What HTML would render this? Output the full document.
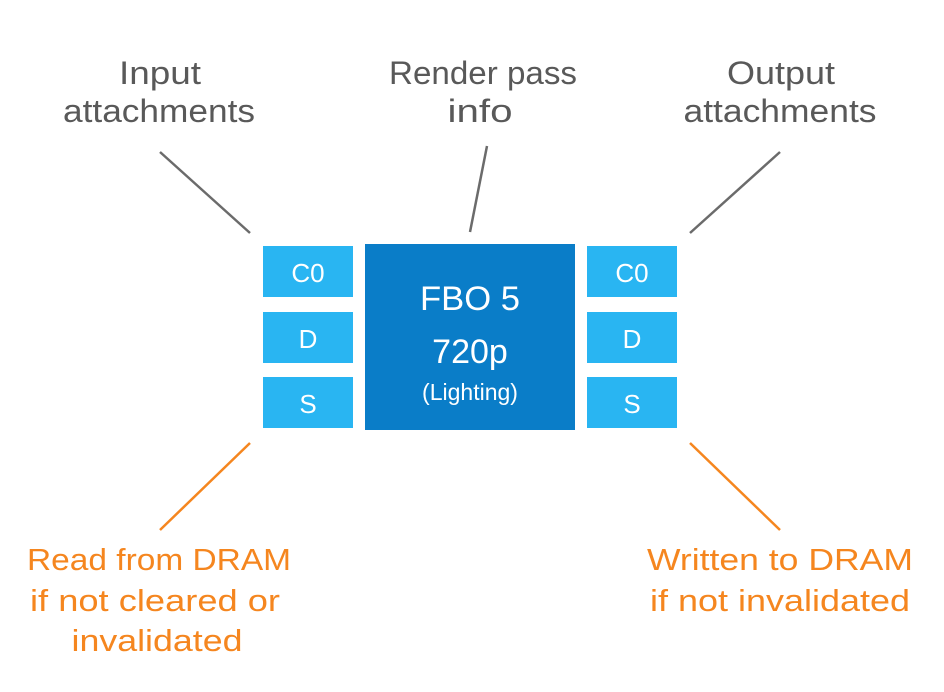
<!DOCTYPE html>
<html><head><style>html,body{margin:0;padding:0;background:#fff}svg{display:block}</style></head>
<body>
<svg width="944" height="692" viewBox="0 0 944 692" xmlns="http://www.w3.org/2000/svg" font-family="Liberation Sans, DejaVu Sans, sans-serif">
<rect width="944" height="692" fill="#fff"/>
<g stroke="#6b6b6b" stroke-width="2.5">
<line x1="160" y1="152" x2="250" y2="233"/>
<line x1="487" y1="146" x2="470" y2="232"/>
<line x1="780" y1="152" x2="690" y2="233"/>
</g>
<g stroke="#f5861f" stroke-width="2.5">
<line x1="250" y1="443" x2="160" y2="530"/>
<line x1="690" y1="443" x2="780" y2="530"/>
</g>
<g fill="#29b5f2">
<rect x="263" y="246" width="90" height="51"/>
<rect x="263" y="312" width="90" height="51"/>
<rect x="263" y="377" width="90" height="51"/>
<rect x="587" y="246" width="90" height="51"/>
<rect x="587" y="312" width="90" height="51"/>
<rect x="587" y="377" width="90" height="51"/>
</g>
<rect x="365" y="244" width="210" height="186" fill="#0a7dc8"/>
<g fill="#fff" text-anchor="middle" font-size="26">
<text x="308" y="282">C0</text><text x="308" y="348">D</text><text x="308" y="413">S</text>
<text x="632" y="282">C0</text><text x="632" y="348">D</text><text x="632" y="413">S</text>
<text x="470" y="310" font-size="34" textLength="100" lengthAdjust="spacingAndGlyphs">FBO 5</text>
<text x="470" y="363" font-size="34">720p</text>
<text x="470" y="400" font-size="23">(Lighting)</text>
</g>
<g fill="#595959" text-anchor="middle" font-size="32">
<text x="160" y="84" textLength="82" lengthAdjust="spacingAndGlyphs">Input</text>
<text x="159" y="122" textLength="192" lengthAdjust="spacingAndGlyphs">attachments</text>
<text x="483" y="84" textLength="188" lengthAdjust="spacingAndGlyphs">Render pass</text>
<text x="480" y="122" textLength="65" lengthAdjust="spacingAndGlyphs">info</text>
<text x="781" y="84" textLength="108" lengthAdjust="spacingAndGlyphs">Output</text>
<text x="780" y="122" textLength="193" lengthAdjust="spacingAndGlyphs">attachments</text>
</g>
<g fill="#f5861f" text-anchor="middle" font-size="31">
<text x="159" y="570" textLength="264" lengthAdjust="spacingAndGlyphs">Read from DRAM</text>
<text x="155" y="611" textLength="250" lengthAdjust="spacingAndGlyphs">if not cleared or</text>
<text x="157" y="651" textLength="171" lengthAdjust="spacingAndGlyphs">invalidated</text>
<text x="780" y="570" textLength="266" lengthAdjust="spacingAndGlyphs">Written to DRAM</text>
<text x="780" y="611" textLength="260" lengthAdjust="spacingAndGlyphs">if not invalidated</text>
</g>
</svg>
</body></html>
